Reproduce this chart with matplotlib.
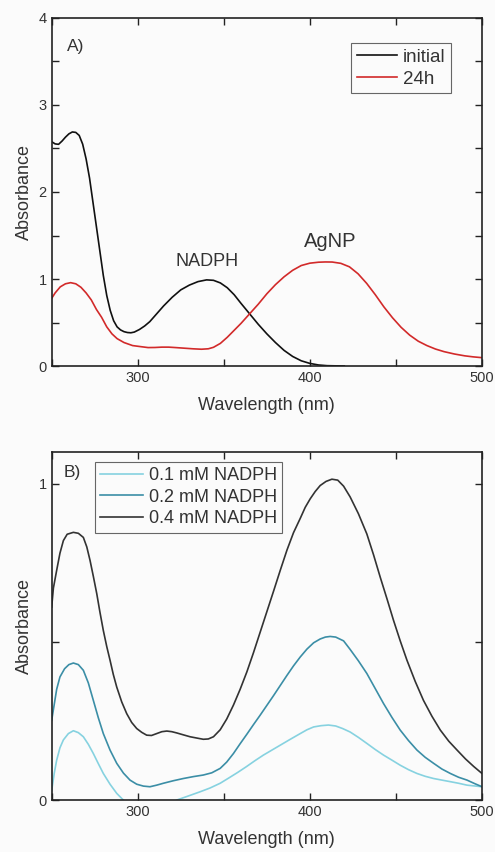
import matplotlib
matplotlib.use("Agg")
import matplotlib.pyplot as plt
from matplotlib.ticker import MultipleLocator

plt.rcParams['font.family'] = ['Liberation Sans', 'DejaVu Sans']

# ---- Panel A data ----
wl_initial = [250, 252, 254, 256, 258, 260, 262, 264, 266, 268, 270, 272, 274, 276,
              278, 280, 282, 284, 286, 288, 290, 292, 294, 296, 298, 301, 304, 307,
              311, 315, 320, 325, 330, 335, 340, 344, 348, 352, 356, 360, 365, 370,
              375, 380, 385, 390, 395, 400, 405, 410, 420]
abs_initial = [2.578, 2.553, 2.548, 2.585, 2.63, 2.668, 2.69, 2.685, 2.65, 2.55, 2.38,
               2.16, 1.88, 1.60, 1.32, 1.04, 0.81, 0.64, 0.52, 0.45, 0.415, 0.395,
               0.385, 0.382, 0.39, 0.42, 0.46, 0.51, 0.60, 0.69, 0.79, 0.875, 0.93,
               0.97, 0.99, 0.985, 0.955, 0.90, 0.82, 0.72, 0.60, 0.48, 0.37, 0.27,
               0.18, 0.11, 0.06, 0.03, 0.012, 0.004, 0.0]

wl_24h = [250, 252, 255, 258, 261, 264, 267, 270, 273, 276, 279, 282, 285, 288, 292,
          297, 302, 306, 310, 314, 318, 322, 327, 332, 337, 341, 344, 348, 352, 356,
          360, 365, 370, 375, 380, 385, 390, 395, 400, 405, 409, 413, 418, 423, 428,
          433, 438, 443, 448, 453, 458, 463, 468, 473, 478, 484, 490, 495, 500]
abs_24h = [0.778, 0.84, 0.91, 0.945, 0.958, 0.945, 0.905, 0.84, 0.76, 0.65, 0.56,
           0.45, 0.37, 0.315, 0.27, 0.235, 0.222, 0.212, 0.213, 0.217, 0.217, 0.212,
           0.205, 0.198, 0.193, 0.198, 0.215, 0.26, 0.33, 0.41, 0.49, 0.60, 0.71,
           0.83, 0.935, 1.025, 1.10, 1.155, 1.182, 1.193, 1.196, 1.195, 1.18, 1.14,
           1.06, 0.95, 0.82, 0.68, 0.555, 0.445, 0.355, 0.285, 0.235, 0.195, 0.165,
           0.138, 0.117, 0.105, 0.096]

# ---- Panel B data ----
wl_04 = [250, 251, 252.9, 254.8, 256.8, 259, 262.6, 265.5, 268.4, 270.4, 272.3, 274.2,
         276.2, 278, 280, 282, 283.9, 285.8, 287.8, 290.7, 293.6, 296.5, 299.4, 302.3,
         305.2, 308, 311, 314, 316.9, 319.8, 322.7, 326.5, 330.4, 334.2, 338.1, 341,
         344, 347.9, 351.7, 355.6, 359.5, 363.4, 367.2, 371.1, 375, 378.9, 382.8,
         386.7, 390.5, 394.4, 397.3, 400.2, 403.1, 406, 409.4, 412.8, 416.2, 419.6,
         423.4, 428.2, 433.1, 437, 440.9, 444.8, 448.6, 452.5, 456.4, 461.2, 466,
         470.9, 475.8, 480.7, 485.5, 490.4, 495.2, 500]
abs_04 = [0.61, 0.67, 0.726, 0.78, 0.82, 0.84, 0.846, 0.843, 0.83, 0.80, 0.757,
          0.707, 0.652, 0.595, 0.536, 0.485, 0.442, 0.397, 0.357, 0.31, 0.273, 0.245,
          0.226, 0.214, 0.205, 0.204, 0.21, 0.216, 0.218, 0.216, 0.212, 0.206, 0.2,
          0.196, 0.192, 0.193, 0.2, 0.222, 0.256, 0.3, 0.35, 0.405, 0.465, 0.53,
          0.595, 0.66, 0.726, 0.79, 0.845, 0.89, 0.925, 0.952, 0.975, 0.994, 1.007,
          1.014, 1.011, 0.992, 0.958, 0.905, 0.841, 0.775, 0.704, 0.636, 0.568, 0.503,
          0.442, 0.375, 0.315, 0.265, 0.221, 0.186, 0.158, 0.13, 0.106, 0.084]

wl_02 = [250, 252.9, 254.8, 257.5, 260, 262.6, 265.5, 268.4, 271.3, 274.2, 277.1,
         280, 283.9, 287.8, 291.7, 295.5, 299.4, 303.3, 307.1, 311, 314.9, 320.7,
         326.5, 332.3, 338.1, 343, 347.9, 351.7, 355.6, 359.5, 363.4, 367.2, 371.1,
         375, 378.9, 382.8, 386.7, 390.5, 394.4, 398.3, 402.2, 406, 409, 411.8, 415,
         419.6, 423.4, 428.2, 433.1, 437.9, 442.8, 447.7, 452.5, 457.3, 462.2,
         467, 471.9, 476.7, 481.6, 486.4, 491.3, 495.7, 500]
abs_02 = [0.252, 0.35, 0.389, 0.415, 0.428, 0.433, 0.428, 0.41, 0.37, 0.315, 0.26,
          0.21, 0.158, 0.116, 0.085, 0.063, 0.05, 0.044, 0.042, 0.047, 0.053, 0.061,
          0.068, 0.074, 0.079, 0.086, 0.1, 0.12, 0.147, 0.178, 0.208, 0.238, 0.268,
          0.299, 0.33, 0.362, 0.394, 0.424, 0.452, 0.477, 0.497, 0.509, 0.515,
          0.517, 0.515, 0.503, 0.476, 0.44, 0.4, 0.353, 0.305, 0.261, 0.221, 0.188,
          0.158, 0.135, 0.116, 0.098, 0.084, 0.072, 0.063, 0.052, 0.042]

wl_01 = [250, 251.5, 252.9, 254.8, 256.8, 259.7, 262.6, 265.5, 268.4, 271.3, 274.2,
         277.1, 280, 283.9, 287.8, 290.7, 293.6, 298, 303, 308, 313, 318, 322.7,
         329.5, 336.2, 342, 347.9, 353, 358, 363, 368, 373, 378, 383, 388, 394.4,
         398.3, 402.2, 406.5, 410.8, 415, 419, 423.4, 428.2, 433.1, 437.9, 442.8,
         447.7, 452.5, 457.3, 462.2, 467, 471.9, 476.7, 481.6, 486.4, 491.3, 500]
abs_01 = [0.03, 0.085, 0.126, 0.165, 0.19, 0.21, 0.219, 0.213, 0.2, 0.176, 0.147,
          0.115, 0.084, 0.05, 0.021, 0.005, -0.01, -0.03, -0.04, -0.04, -0.03, -0.015,
          0.0, 0.013, 0.026, 0.038, 0.053, 0.07, 0.087, 0.105, 0.124, 0.142, 0.158,
          0.174, 0.19, 0.21, 0.222, 0.231, 0.235, 0.237, 0.234, 0.226, 0.215, 0.198,
          0.179, 0.16, 0.142, 0.126, 0.11, 0.096, 0.084, 0.075, 0.068, 0.063, 0.058,
          0.053, 0.047, 0.042]

labels_A = ['initial', '24h']
labels_B = ['0.1 mM NADPH', '0.2 mM NADPH', '0.4 mM NADPH']
x_ticks = [300, 400, 500]

text_color = '#333333'
bg = '#fbfbfb'

fig = plt.figure(figsize=(4.95, 8.52), dpi=100, facecolor=bg)
axA = fig.add_axes([0.1044, 0.5704, 0.8693, 0.4085])
axB = fig.add_axes([0.1044, 0.0610, 0.8693, 0.4085])

for ax in (axA, axB):
    ax.set_facecolor(bg)
    ax.set_xlim(250, 500)
    ax.set_xticks(x_ticks)
    ax.xaxis.set_minor_locator(MultipleLocator(50))
    ax.tick_params(which='both', direction='in', top=True, right=True,
                   labelsize=10.5, colors='#222222', labelcolor=text_color, width=1.0)
    ax.tick_params(which='major', length=5)
    ax.tick_params(which='minor', length=5)
    for s in ax.spines.values():
        s.set_linewidth(1.2)
        s.set_color('#222222')
    ax.set_xlabel('Wavelength (nm)', fontsize=13, color=text_color, labelpad=9)
    ax.set_ylabel('Absorbance', fontsize=13, color=text_color, labelpad=4)

leg_kw = dict(frameon=True, fancybox=False, edgecolor='#666666', framealpha=1,
              handletextpad=0.3, borderpad=0.3, labelspacing=0.25, borderaxespad=0)

# Panel A
axA.plot(wl_initial, abs_initial, color='#111111', lw=1.2, label=labels_A[0])
axA.plot(wl_24h, abs_24h, color='#d22a2a', lw=1.2, label=labels_A[1])
axA.set_ylim(0, 4)
axA.set_yticks([0, 1, 2, 3, 4])
axA.yaxis.set_minor_locator(MultipleLocator(0.5))
axA.text(0.035, 0.94, 'A)', transform=axA.transAxes, fontsize=12.5, color=text_color,
         va='top', ha='left')
axA.text(340, 1.1, 'NADPH', fontsize=13, color=text_color, ha='center', va='bottom')
axA.text(412, 1.32, 'AgNP', fontsize=14.5, color=text_color, ha='center', va='bottom')
legA = axA.legend(loc='upper right', bbox_to_anchor=(0.9285, 0.928), fontsize=13.5,
                  handlelength=2.15, **leg_kw)
legA.get_frame().set_linewidth(0.8)
legA.get_frame().set_facecolor(bg)
for t in legA.get_texts():
    t.set_color(text_color)

# Panel B
axB.plot(wl_01, abs_01, color='#86d2e0', lw=1.2, label=labels_B[0])
axB.plot(wl_02, abs_02, color='#3b8ea6', lw=1.2, label=labels_B[1])
axB.plot(wl_04, abs_04, color='#333333', lw=1.2, label=labels_B[2])
axB.set_ylim(0, 1.1)
axB.set_yticks([0, 1])
axB.yaxis.set_minor_locator(MultipleLocator(0.5))
axB.text(0.027, 0.962, 'B)', transform=axB.transAxes, fontsize=12.5, color=text_color,
         va='top', ha='left')
legB = axB.legend(loc='upper left', bbox_to_anchor=(0.1, 0.972), fontsize=13,
                  handlelength=2.4, **leg_kw)
legB.get_frame().set_linewidth(0.8)
legB.get_frame().set_facecolor(bg)
for t in legB.get_texts():
    t.set_color(text_color)

fig.savefig('out.png', dpi=100, facecolor=bg)
